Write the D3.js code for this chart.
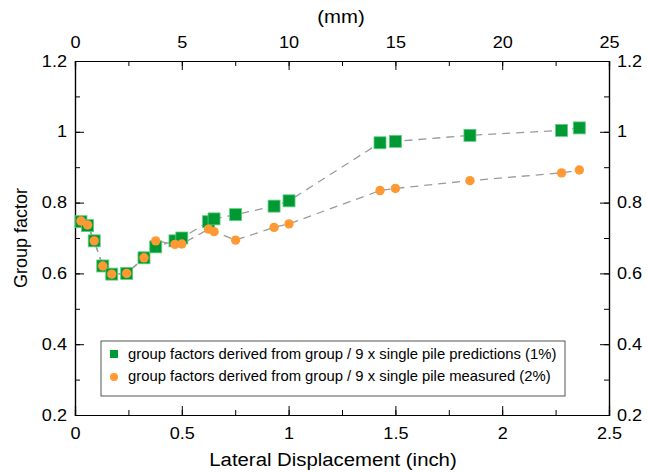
<!DOCTYPE html>
<html>
<head>
<meta charset="utf-8">
<script src="https://cdn.jsdelivr.net/npm/d3@7"></script>
<style>
  body { margin: 0; background: #fff; }
  text { font-family: "Liberation Sans", Arial, sans-serif; fill: #000; }
</style>
</head>
<body>
<script>
(function () {
  // lateral displacement (inch)
  const disp = [0.028, 0.059, 0.09, 0.13, 0.172, 0.242, 0.323, 0.378, 0.468, 0.50,
                0.625, 0.651, 0.752, 0.932, 1.002, 1.428, 1.50, 1.849, 2.278, 2.361]
  const predicted = [0.746, 0.735, 0.692, 0.621, 0.598, 0.600, 0.644, 0.675, 0.692, 0.700,
                     0.746, 0.754, 0.766, 0.790, 0.805, 0.969, 0.973, 0.990, 1.004, 1.011]
  const measured = [0.748, 0.737, 0.692, 0.621, 0.598, 0.600, 0.644, 0.692, 0.682, 0.683,
                    0.725, 0.718, 0.694, 0.730, 0.740, 0.834, 0.840, 0.862, 0.884, 0.892]
  const xTicks = [0, 0.5, 1, 1.5, 2, 2.5]
  const mmTicks = [0, 5, 10, 15, 20, 25]
  const yTicks = [0.2, 0.4, 0.6, 0.8, 1, 1.2]
  const legendLabels = [
    'group factors derived from group / 9 x single pile predictions (1%)',
    'group factors derived from group / 9 x single pile measured (2%)'
  ]

  const W = 647, H = 472
  const m = { left: 75, right: 38, top: 61, bottom: 57 }
  const w = W - m.left - m.right
  const h = H - m.top - m.bottom
  const sx = 1.13   // the picture's text is a little wider than it is tall

  const x = d3.scaleLinear().domain([0, 2.5]).range([0, w])
  const xmm = d3.scaleLinear().domain([0, 25]).range([0, w])
  const y = d3.scaleLinear().domain([0.2, 1.2]).range([h, 0])

  const svg = d3.select('body').append('svg')
                .attr('width', W)
                .attr('height', H)
  const g = svg.append('g').attr('transform', `translate(${m.left},${m.top})`)

  const fmt = d => String(+d.toFixed(2))

  // minor ticks (inward)
  const minorX = d3.range(0, 2.51, 0.25)
  const minorMm = d3.range(0, 25.1, 2.5)
  const minorY = d3.range(0.2, 1.201, 0.1)

  g.append('g').attr('transform', `translate(0,${h})`)
    .call(d3.axisBottom(x).tickValues(minorX).tickSize(-5).tickFormat(''))
  g.append('g')
    .call(d3.axisTop(xmm).tickValues(minorMm).tickSize(-5).tickFormat(''))
  g.append('g')
    .call(d3.axisLeft(y).tickValues(minorY).tickSize(-5).tickFormat(''))
  g.append('g').attr('transform', `translate(${w},0)`)
    .call(d3.axisRight(y).tickValues(minorY).tickSize(-5).tickFormat(''))

  // major axes
  g.append('g').attr('transform', `translate(0,${h})`)
    .call(d3.axisBottom(x).tickValues(xTicks).tickSize(-9).tickPadding(13).tickFormat(fmt))
  g.append('g')
    .call(d3.axisTop(xmm).tickValues(mmTicks).tickSize(-9).tickPadding(13).tickFormat(fmt))
  const left = g.append('g')
    .call(d3.axisLeft(y).tickValues(yTicks).tickSize(-9).tickPadding(8).tickFormat(fmt))
  const right = g.append('g').attr('transform', `translate(${w},0)`)
    .call(d3.axisRight(y).tickValues(yTicks).tickSize(-9).tickPadding(8).tickFormat(fmt))

  g.selectAll('.domain').attr('stroke', '#000').attr('stroke-width', 1.2)
  g.selectAll('.tick line').attr('stroke', '#000')
  g.selectAll('.tick text')
    .attr('font-family', '"Liberation Sans", Arial, sans-serif')
    .attr('font-size', 16)
    .attr('fill', '#000')
    .attr('transform', `scale(${sx},1)`)
  left.selectAll('.tick text').attr('x', -8 / sx)
  right.selectAll('.tick text').attr('x', 8 / sx)

  // axis titles
  svg.append('text')
    .attr('transform', `translate(333,466) scale(${sx},1)`)
    .attr('text-anchor', 'middle').attr('font-size', 18)
    .text('Lateral Displacement (inch)')
  svg.append('text')
    .attr('transform', `translate(341,23) scale(${sx},1)`)
    .attr('text-anchor', 'middle').attr('font-size', 18)
    .text('(mm)')
  svg.append('text')
    .attr('transform', `translate(27,${m.top + h / 2}) rotate(-90)`)
    .attr('text-anchor', 'middle').attr('font-size', 18)
    .text('Group factor')

  const pts = s => disp.map((d, i) => [d, s[i]])
  const line = d3.line().x(d => x(d[0])).y(d => y(d[1]))

  g.append('path').datum(pts(predicted))
    .attr('d', line).attr('fill', 'none')
    .attr('stroke', '#9a9a9a').attr('stroke-width', 1.3)
    .attr('stroke-dasharray', '8,6')
  g.append('path').datum(pts(measured))
    .attr('d', line).attr('fill', 'none')
    .attr('stroke', '#9a9a9a').attr('stroke-width', 1.3)
    .attr('stroke-dasharray', '8,6')

  const sq = 12
  g.selectAll('rect.pred').data(pts(predicted)).enter()
    .append('rect')
    .attr('x', d => x(d[0]) - sq / 2)
    .attr('y', d => y(d[1]) - sq / 2)
    .attr('width', sq).attr('height', sq)
    .attr('fill', '#009933')
    .attr('stroke', '#5fcf7f').attr('stroke-width', 0.8)

  g.selectAll('circle.meas').data(pts(measured)).enter()
    .append('circle')
    .attr('cx', d => x(d[0]))
    .attr('cy', d => y(d[1]))
    .attr('r', 4.7)
    .attr('fill', '#ff9933')

  // legend
  const lg = svg.append('g').attr('transform', 'translate(101,341)')
  lg.append('rect')
    .attr('width', 464).attr('height', 55)
    .attr('fill', '#fff').attr('stroke', '#555').attr('stroke-width', 1)
  lg.append('rect')
    .attr('x', 9).attr('y', 9).attr('width', 8).attr('height', 8)
    .attr('fill', '#009933')
  lg.append('circle')
    .attr('cx', 13).attr('cy', 36).attr('r', 4)
    .attr('fill', '#ff9933')
  lg.selectAll('text.lab').data(legendLabels).enter()
    .append('text')
    .attr('transform', (d, i) => `translate(27,${18 + i * 22}) scale(1.06,1)`)
    .attr('font-size', 14)
    .text(d => d)
})()
</script>
</body>
</html>
